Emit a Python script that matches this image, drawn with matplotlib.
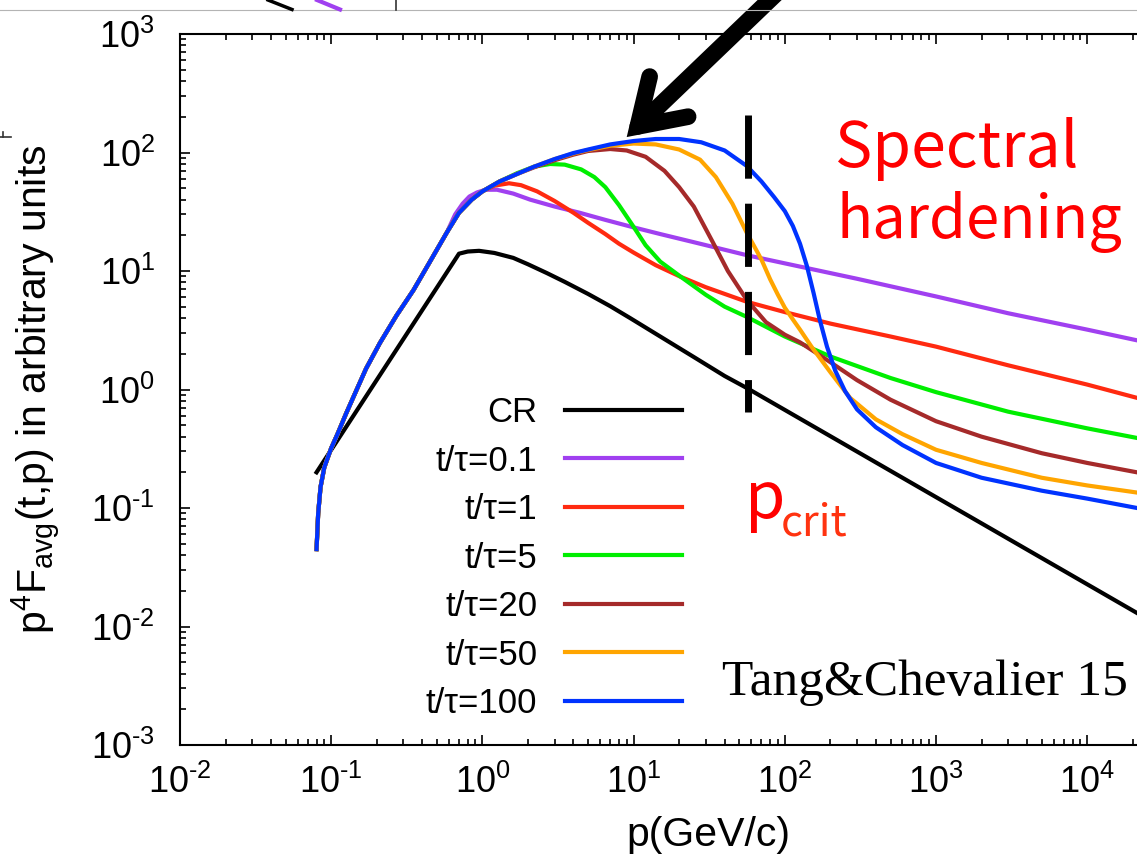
import numpy as np
import matplotlib
matplotlib.use('Agg')
import matplotlib.pyplot as plt
from matplotlib.lines import Line2D
from matplotlib.ticker import FuncFormatter

W, H = 1137, 868

plt.rcParams['font.family'] = ['Liberation Sans', 'DejaVu Sans']
plt.rcParams['mathtext.fontset'] = 'custom'
plt.rcParams['mathtext.rm'] = 'Liberation Sans'
plt.rcParams['mathtext.it'] = 'Liberation Sans:italic'
plt.rcParams['axes.unicode_minus'] = False

# common steep rise shared by all t/tau curves
RISE_P = [0.08, 0.082, 0.085, 0.09, 0.1, 0.11, 0.125, 0.14, 0.17, 0.21, 0.27, 0.35, 0.45, 0.58]
RISE_V = [0.045, 0.09, 0.15, 0.22, 0.32, 0.42, 0.62, 0.86, 1.5, 2.47, 4.2, 6.9, 12, 21]

cr_p = [0.08, 0.7, 0.8, 0.95, 1.2, 1.6, 2.0, 2.67, 3.5, 5, 7, 9.5, 15, 25, 40, 56, 21330]
cr_v = [0.2, 14, 14.6, 14.8, 14.2, 12.9, 11.4, 9.6, 8.1, 6.4, 5.05, 4.0, 2.8, 1.88, 1.3, 1.03, 0.013]

t01_p = [0.66, 0.74, 0.82, 0.92, 1.05, 1.25, 1.6, 2.07, 3, 4.4, 6.5, 9.8, 15, 25, 56, 100, 300, 1000, 3000, 10000, 21330]
t01_v = [30, 37, 42.5, 46, 48.5, 48.5, 45, 40, 35, 31, 27, 23.5, 20.5, 17.5, 13.6, 11.6, 8.6, 6.1, 4.4, 3.2, 2.6]

t1_p = [0.7, 0.85, 1.0, 1.2, 1.5, 1.8, 2.3, 3, 4, 5, 6.5, 8, 10, 14, 20.6, 30, 56, 100, 200, 500, 1000, 3000, 10000, 21330]
t1_v = [31, 40, 47, 52.5, 55, 53, 47, 39, 31, 25.5, 20.5, 17, 14.3, 11.2, 8.9, 7.3, 5.5, 4.5, 3.6, 2.8, 2.3, 1.6, 1.1, 0.85]

t5_p = [0.7, 0.85, 1.0, 1.3, 1.7, 2.2, 2.8, 3.5, 4.5, 5.5, 6.5, 8, 9.8, 12, 15, 20.6, 30, 40, 56, 100, 200, 500, 1000, 3000, 10000, 21330]
t5_v = [31, 40, 47, 57, 67, 76, 80, 79, 72, 62, 51, 36, 24.5, 16.5, 12, 8.9, 6.3, 5.0, 4.1, 2.8, 1.9, 1.25, 0.95, 0.65, 0.47, 0.39]

t20_p = [0.7, 0.85, 1.0, 1.3, 1.7, 2.2, 3, 4, 5, 7, 9, 12, 16, 20, 25, 33, 42, 56, 75, 100, 126, 200, 300, 500, 1000, 2000, 5000, 10000, 21330]
t20_v = [31, 40, 47, 57, 66, 75, 86, 96, 103, 107, 104, 92, 70, 51, 35, 18, 10, 5.7, 3.7, 2.9, 2.5, 1.7, 1.2, 0.82, 0.54, 0.4, 0.29, 0.24, 0.20]

t50_p = [0.7, 0.85, 1.0, 1.3, 1.7, 2.2, 3, 4, 5, 7, 10, 14, 20, 27.5, 35, 45, 56, 63, 70, 80, 90, 100, 113, 126, 150, 200, 270, 400, 600, 1000, 2000, 5000, 10000, 21330]
t50_v = [31, 40, 47, 57, 66, 76, 88, 98, 105, 114, 119, 117, 106, 87, 62, 37, 21, 16, 12.5, 8.5, 6.3, 4.9, 3.9, 3.2, 2.3, 1.4, 0.85, 0.56, 0.42, 0.31, 0.24, 0.18, 0.155, 0.135]

t100_p = [0.7, 0.85, 1.0, 1.3, 1.7, 2.2, 3, 4, 5, 7, 10, 14, 20, 28, 40, 56, 70, 85, 100, 113, 126, 140, 155, 170, 190, 215, 250, 300, 400, 600, 1000, 2000, 5000, 10000, 21330]
t100_v = [31, 40, 47, 57, 66, 76, 88, 99, 106, 117, 125, 130, 130, 122, 104, 77, 57, 42, 32, 24, 17, 11, 6.5, 3.9, 2.3, 1.45, 0.97, 0.68, 0.48, 0.34, 0.24, 0.18, 0.14, 0.12, 0.10]

labels = ['CR', 't/τ=0.1', 't/τ=1', 't/τ=5', 't/τ=20', 't/τ=50', 't/τ=100']
colors = ['black', '#a040f0', '#ff2a10', '#00ee00', '#a52a2a', '#ffa500', '#0033ff']

P_CRIT = 57
P_CRIT_RANGE = (207, 0.645)


def log_fmt(val, pos):
    e = int(round(np.log10(val)))
    if e < 0:
        return r'$\mathdefault{10^{\text{-}%d}}$' % -e
    return r'$\mathdefault{10^{%d}}$' % e


fig = plt.figure(figsize=(W / 100, H / 100), dpi=100)
ax = fig.add_axes([180 / W, 1 - 745 / H, (W - 180) / W, 711 / H])

curves = [(cr_p, cr_v),
          (RISE_P + t01_p, RISE_V + t01_v),
          (RISE_P + t1_p, RISE_V + t1_v),
          (RISE_P + t5_p, RISE_V + t5_v),
          (RISE_P + t20_p, RISE_V + t20_v),
          (RISE_P + t50_p, RISE_V + t50_v),
          (RISE_P + t100_p, RISE_V + t100_v)]

handles = []
for (p, v), lab, col in zip(curves, labels, colors):
    ln, = ax.plot(p, v, color=col, lw=3, label=lab, solid_joinstyle='round')
    handles.append(ln)

# p_crit dashed line
ax.plot([P_CRIT, P_CRIT], P_CRIT_RANGE, color='black', lw=5, dashes=(9.1, 3.6))

ax.set_xscale('log')
ax.set_yscale('log')
ax.set_xlim(1e-2, 21330)
ax.set_ylim(1e-3, 1e3)
ax.xaxis.set_major_formatter(FuncFormatter(log_fmt))
ax.yaxis.set_major_formatter(FuncFormatter(log_fmt))

ax.spines['right'].set_visible(False)
for s in ['left', 'bottom', 'top']:
    ax.spines[s].set_linewidth(1.5)
ax.tick_params(which='both', direction='in', top=True, right=False, width=1.2)
ax.tick_params(which='major', length=7)
ax.tick_params(which='minor', length=4)
ax.tick_params(axis='x', which='major', labelsize=26, pad=14)
ax.tick_params(axis='y', which='major', labelsize=26, pad=18)

ax.set_xlabel('p(GeV/c)', fontsize=29.5)
ax.xaxis.set_label_coords((708 - 180) / 957, (745 - 816) / 711)
ax.set_ylabel(r'p$^{4}$F$_{\mathdefault{avg}}$(t,p) in arbitrary units', fontsize=29.5)
ax.yaxis.set_label_coords((62 - 180) / 957, 0.5)

leg = ax.legend(handles, labels, loc='lower right',
                bbox_to_anchor=((682 - 180) / 957, (745 - 720) / 711),
                frameon=False, markerfirst=False, fontsize=25,
                handlelength=3.37, handletextpad=0.8, labelspacing=0.446,
                borderpad=0, borderaxespad=0)

# annotations
fig.text(835 / W, 1 - 167 / H, 'Spectral', color='red', fontsize=45,
         family='Noto Sans CJK JP', ha='left', va='baseline')
fig.text(836 / W, 1 - 238 / H, 'hardening', color='red', fontsize=43,
         family='Noto Sans CJK JP', ha='left', va='baseline')
fig.text(745 / W, 1 - 518 / H, 'p', color='red', fontsize=47,
         family='Noto Sans CJK JP', ha='left', va='baseline')
fig.text(781 / W, 1 - 535 / H, 'crit', color='#ff3310', fontsize=31,
         family='Noto Sans CJK JP', ha='left', va='baseline')
fig.text(722 / W, 1 - 695 / H, 'Tang&Chevalier 15', color='black', fontsize=37,
         family='Liberation Serif', ha='left', va='baseline')

# big arrow pointing at the hardened peak
ax.annotate('', xy=(9.0, 135), xycoords='data',
            xytext=(778, H + 8), textcoords='figure pixels',
            arrowprops=dict(arrowstyle='->,head_length=3.1,head_width=2.0',
                            mutation_scale=10, lw=12, color='black',
                            capstyle='round', joinstyle='miter',
                            shrinkA=0, shrinkB=0),
            annotation_clip=False)

# fragments of the panel above (cropped)
fig.add_artist(Line2D([0, 1], [1 - 9.5 / H] * 2, transform=fig.transFigure,
                      color='#b4b4b4', lw=0.8))
fig.add_artist(Line2D([268 / W, 292 / W], [1, 1 - 9.5 / H], transform=fig.transFigure,
                      color='black', lw=2.5))
fig.add_artist(Line2D([317 / W, 340 / W], [1, 1 - 9.5 / H], transform=fig.transFigure,
                      color='#a040f0', lw=3))
fig.add_artist(Line2D([396 / W, 396 / W], [1, 1 - 9.5 / H], transform=fig.transFigure,
                      color='#333333', lw=1.2))
fig.add_artist(Line2D([0, 11 / W], [1 - 137 / H] * 2, transform=fig.transFigure,
                      color='#333333', lw=1.2))
fig.add_artist(Line2D([3 / W, 3 / W], [1 - 132 / H, 1 - 137 / H], transform=fig.transFigure,
                      color='#333333', lw=1.2))

fig.savefig('out.png', dpi=100)
